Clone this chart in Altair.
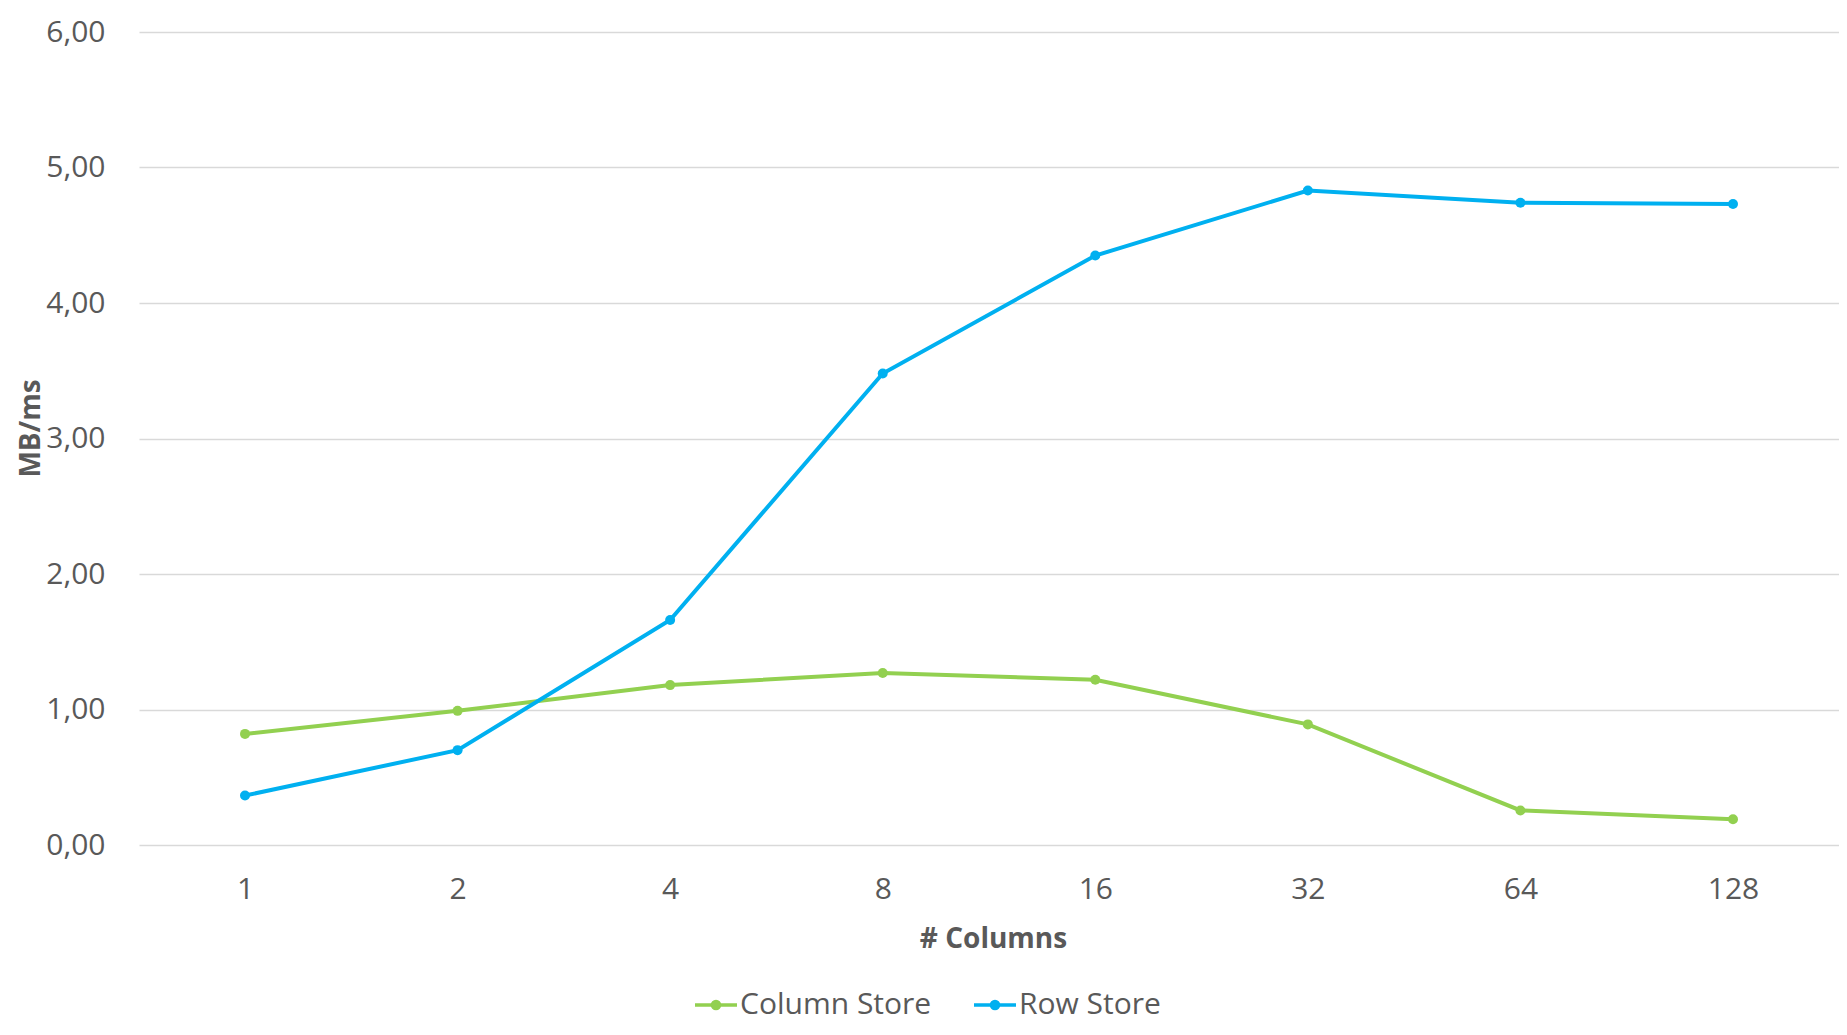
import altair as alt
import pandas as pd

columns = ["1", "2", "4", "8", "16", "32", "64", "128"]
column_store = [0.82, 0.99, 1.18, 1.27, 1.22, 0.89, 0.255, 0.19]
row_store = [0.365, 0.70, 1.66, 3.48, 4.35, 4.83, 4.74, 4.73]
series_names = ["Column Store", "Row Store"]
series_colors = ["#92D050", "#00B0F0"]
y_ticks = [0, 1, 2, 3, 4, 5, 6]

rows = []
for name, vals in zip(series_names, [column_store, row_store]):
    for c, v in zip(columns, vals):
        rows.append({"cols": c, "value": v, "series": name})
df = pd.DataFrame(rows)

FONT = "Open Sans"
GRAY = "#595959"

# legend symbol: a short line with a dot in its middle (stroke-drawn)
symbol_path = ("M-1,0L1,0 "
               "M0.17,0A0.17,0.17 0 1,1 -0.17,0A0.17,0.17 0 1,1 0.17,0 "
               "M0.07,0A0.07,0.07 0 1,1 -0.07,0A0.07,0.07 0 1,1 0.07,0")

chart = alt.Chart(df).mark_line(
    strokeWidth=4,
    point=alt.OverlayMarkDef(filled=True, size=100, opacity=1),
).encode(
    x=alt.X(
        "cols:O",
        sort=columns,
        scale=alt.Scale(type="point", padding=0.4987),
        axis=alt.Axis(
            title="# Columns", labelAngle=0, ticks=False, tickSize=0, domain=False, grid=False,
            labelPadding=44, labelBaseline="middle", labelFontSize=30,
            titleFontSize=28, titleX=854, titleY=94, titleBaseline="middle",
        ),
    ),
    y=alt.Y(
        "value:Q",
        scale=alt.Scale(domain=[0, 6], nice=False),
        axis=alt.Axis(
            title="MB/ms", values=y_ticks,
            labelExpr="replace(format(datum.value, '.2f'), '.', ',')",
            grid=True, gridColor="#D9D9D9", gridWidth=1.5, domain=False, ticks=False, tickSize=0,
            labelPadding=34, labelBaseline="middle", labelFontSize=30,
            titleFontSize=28, titleX=-108, titleY=396, titleAngle=270, titleBaseline="middle",
        ),
    ),
    color=alt.Color(
        "series:N",
        scale=alt.Scale(domain=series_names, range=series_colors),
        legend=alt.Legend(
            title=None, orient="none", legendX=554, legendY=950, direction="horizontal",
            symbolType=symbol_path, symbolSize=1764, symbolStrokeWidth=3.5, symbolOpacity=1,
            labelFontSize=30, labelColor=GRAY, labelFont=FONT, labelLimit=500,
            columnPadding=35, labelOffset=1, padding=0,
        ),
    ),
).properties(
    width=1700, height=813,
    autosize=alt.AutoSizeParams(type="none"),
    padding={"left": 131, "top": 24, "right": 0, "bottom": 182},
    background="white",
).configure_view(stroke=None).configure_axis(
    labelFont=FONT, titleFont=FONT, labelColor=GRAY, titleColor=GRAY, titleFontWeight="bold",
)

chart.save("out.html", embed_options={"renderer": "svg", "actions": False})
